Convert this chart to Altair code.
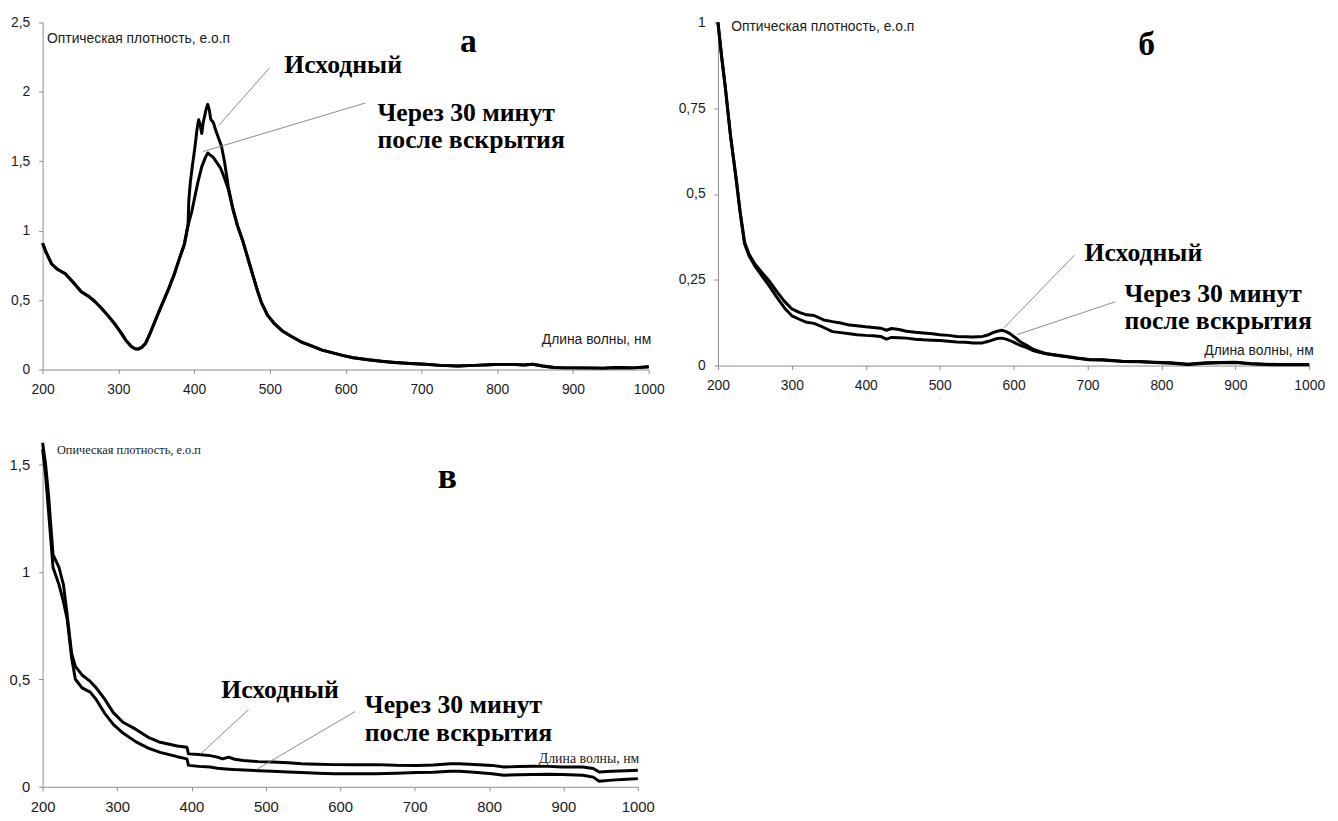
import altair as alt
import pandas as pd

# ---------------- Panel а ----------------
A_WL_NEW = [200, 205, 212, 220, 230, 240, 251, 260, 269, 278, 286, 295, 304, 310, 317, 322, 326, 331,
            336, 341, 347, 353, 360, 367, 374, 380, 387, 393, 397, 400, 405, 410, 415, 418, 420, 425,
            430, 435, 440, 445, 451, 457, 464, 471, 478, 484, 489, 497, 506, 516, 528, 541, 555, 569,
            583, 597, 610, 630, 650, 665, 685, 705, 725, 748, 770, 790, 802, 820, 835, 847, 860, 875,
            890, 910, 940, 960, 980, 1000]
A_NEW = [0.91, 0.84, 0.76, 0.72, 0.69, 0.63, 0.56, 0.53, 0.49, 0.44, 0.39, 0.33, 0.26, 0.21, 0.166,
         0.15, 0.147, 0.16, 0.19, 0.25, 0.33, 0.41, 0.50, 0.59, 0.69, 0.79, 0.90, 1.06, 1.14, 1.22,
         1.35, 1.46, 1.53, 1.56, 1.55, 1.53, 1.49, 1.45, 1.38, 1.30, 1.16, 1.04, 0.93, 0.80, 0.67,
         0.56, 0.48, 0.39, 0.33, 0.28, 0.24, 0.20, 0.17, 0.14, 0.12, 0.10, 0.085, 0.07, 0.058, 0.05,
         0.043, 0.038, 0.03, 0.026, 0.03, 0.035, 0.037, 0.037, 0.033, 0.038, 0.025, 0.015, 0.012,
         0.012, 0.01, 0.015, 0.012, 0.02]
A_WL_ORIG = [200, 205, 212, 220, 230, 240, 251, 260, 269, 278, 286, 295, 304, 310, 317, 322, 326, 331,
             336, 341, 347, 353, 360, 367, 374, 380, 387, 392, 393, 395, 398, 401, 404, 406, 408, 410,
             412, 414, 416, 418, 420, 422, 424, 426, 428, 432, 436, 440, 445, 451, 457, 464, 471, 478,
             484, 489, 497, 506, 516, 528, 541, 555, 569, 583, 597, 610, 630, 650, 665, 685, 705, 725,
             748, 770, 790, 802, 820, 835, 847, 860, 875, 890, 910, 940, 960, 980, 1000]
A_ORIG = [0.91, 0.84, 0.76, 0.72, 0.69, 0.63, 0.56, 0.53, 0.49, 0.44, 0.39, 0.33, 0.26, 0.21, 0.166,
          0.15, 0.147, 0.16, 0.19, 0.25, 0.33, 0.41, 0.50, 0.59, 0.69, 0.79, 0.90, 1.05, 1.22, 1.35,
          1.48, 1.60, 1.74, 1.80, 1.76, 1.70, 1.78, 1.83, 1.88, 1.91, 1.87, 1.80, 1.79, 1.77, 1.73,
          1.67, 1.61, 1.50, 1.32, 1.16, 1.04, 0.93, 0.80, 0.67, 0.56, 0.48, 0.39, 0.33, 0.28, 0.24,
          0.20, 0.17, 0.14, 0.12, 0.10, 0.085, 0.07, 0.058, 0.05, 0.043, 0.038, 0.03, 0.026, 0.03,
          0.035, 0.037, 0.037, 0.033, 0.038, 0.025, 0.015, 0.012, 0.012, 0.01, 0.015, 0.012, 0.02]

# ---------------- Panel б ----------------
B_WL = [200, 205, 210, 217, 225, 230, 236, 242, 250, 260, 270, 280, 290, 300, 310, 320, 330, 343, 355,
        366, 378, 388, 400, 410, 420, 428, 435, 445, 455, 467, 478, 490, 500, 512, 523, 535, 545, 558,
        565, 572, 578, 584, 590, 595, 602, 608, 617, 626, 635, 644, 657, 670, 686, 702, 720, 747, 770,
        790, 813, 836, 860, 880, 900, 920, 940, 959, 980, 1000]
B_ORIG = [1.0, 0.90, 0.81, 0.67, 0.54, 0.45, 0.36, 0.325, 0.296, 0.27, 0.245, 0.215, 0.187, 0.165,
          0.155, 0.148, 0.146, 0.133, 0.128, 0.124, 0.118, 0.116, 0.113, 0.111, 0.109, 0.103, 0.108,
          0.105, 0.100, 0.097, 0.095, 0.093, 0.090, 0.088, 0.085, 0.084, 0.083, 0.085, 0.089, 0.096,
          0.100, 0.103, 0.099, 0.093, 0.082, 0.071, 0.060, 0.048, 0.041, 0.035, 0.031, 0.027, 0.022,
          0.018, 0.017, 0.013, 0.012, 0.010, 0.008, 0.004, 0.008, 0.009, 0.010, 0.006, 0.004, 0.003,
          0.003, 0.003]
B_NEW = [1.0, 0.90, 0.81, 0.67, 0.535, 0.445, 0.355, 0.32, 0.29, 0.26, 0.23, 0.198, 0.168, 0.145,
         0.135, 0.126, 0.123, 0.111, 0.099, 0.096, 0.093, 0.090, 0.088, 0.087, 0.085, 0.077, 0.082,
         0.081, 0.080, 0.077, 0.075, 0.074, 0.073, 0.071, 0.069, 0.068, 0.066, 0.066, 0.070, 0.075,
         0.079, 0.080, 0.077, 0.073, 0.066, 0.060, 0.053, 0.044, 0.039, 0.034, 0.030, 0.026, 0.021,
         0.017, 0.016, 0.012, 0.011, 0.009, 0.007, 0.003, 0.007, 0.008, 0.009, 0.005, 0.003, 0.002,
         0.002, 0.002]

# ---------------- Panel в ----------------
C_WL = [200, 204, 208, 214, 222, 228, 233, 239, 244, 253, 264, 272, 283, 295, 308, 325, 342, 358, 381,
        394, 396, 410, 425, 435, 442, 450, 458, 470, 490, 509, 530, 548, 570, 592, 620, 648, 675, 703,
        725, 748, 760, 780, 804, 820, 840, 859, 880, 898, 926, 940, 948, 965, 985, 1000]
C_ORIG = [1.60, 1.50, 1.355, 1.08, 1.02, 0.94, 0.80, 0.62, 0.56, 0.52, 0.49, 0.46, 0.41, 0.345, 0.30,
          0.268, 0.23, 0.207, 0.19, 0.184, 0.153, 0.15, 0.145, 0.138, 0.13, 0.138, 0.128, 0.122,
          0.117, 0.115, 0.112, 0.107, 0.105, 0.103, 0.102, 0.103, 0.100, 0.0995, 0.101, 0.107, 0.107,
          0.104, 0.0995, 0.092, 0.094, 0.096, 0.095, 0.092, 0.092, 0.085, 0.069, 0.072, 0.075, 0.077]
C_NEW = [1.57, 1.45, 1.28, 1.02, 0.94, 0.86, 0.78, 0.60, 0.50, 0.46, 0.44, 0.406, 0.344, 0.29, 0.25,
         0.21, 0.18, 0.16, 0.14, 0.13, 0.0995, 0.095, 0.092, 0.086, 0.084, 0.082, 0.08, 0.078, 0.075,
         0.072, 0.069, 0.066, 0.063, 0.061, 0.061, 0.061, 0.063, 0.066, 0.068, 0.072, 0.072, 0.068,
         0.061, 0.054, 0.056, 0.057, 0.058, 0.057, 0.054, 0.045, 0.026, 0.031, 0.035, 0.038]

X_TICKS = [200, 300, 400, 500, 600, 700, 800, 900, 1000]
SERIES = ["Исходный", "Через 30 минут после вскрытия"]

# Annotation texts (data coordinates)
LBL_TEXT = ["Исходный", "Через 30 минут", "после вскрытия"]
A_LBL_X = [519, 642, 642]
A_LBL_Y = [2.19, 1.85, 1.65]
B_LBL_X = [696, 750, 750]
B_LBL_Y = [0.328, 0.209, 0.130]
C_LBL_X = [440, 633, 633]
C_LBL_Y = [0.451, 0.382, 0.249]

# Letter markers
LETTERS = ["а", "б", "в"]
LETTER_X = [762, 780, 744]
LETTER_Y = [2.36, 0.933, 1.44]

# Callout lines: x, y, x2, y2
A_CALL = [[499, 2.17, 432.7, 1.76], [626, 1.92, 411.8, 1.57]]
B_CALL = [[682.5, 0.322, 587, 0.110], [737.6, 0.186, 604.6, 0.09]]
C_CALL = [[476.8, 0.359, 412, 0.152], [620, 0.35, 488.7, 0.083]]

Y_TITLE = ["Оптическая плотность, е.о.п", "Оптическая плотность, е.о.п", "Опическая плотность, е.о.п"]
X_TITLE = ["Длина волны, нм", "Длина волны, нм", "Длина  волны, нм"]


def make_panel(wl_o, v_o, wl_n, v_n, ymax, yticks, width, height,
               ytitle, ytx, yty, yfont, ysize,
               xtitle, xtx, xty, xfont, xsize,
               label_x, label_y, letter, lx, ly, lsize, calls, tick_size):
    df = pd.concat([
        pd.DataFrame({"x": wl_o, "y": v_o, "s": SERIES[0]}),
        pd.DataFrame({"x": wl_n, "y": v_n, "s": SERIES[1]}),
    ])
    xs = alt.Scale(domain=[200, 1000], nice=False, zero=False)
    ys = alt.Scale(domain=[0, ymax], nice=False, zero=True)
    common_axis = dict(grid=False, domainColor="#8c8c8c", tickColor="#8c8c8c", tickSize=4,
                       labelFont="Liberation Sans", labelFontSize=tick_size, labelColor="#1a1a1a",
                       titleFontWeight="normal", titleColor="#1a1a1a", titleLimit=1000, labelPadding=9,
                       labelFlush=False, labelOverlap=False)
    xaxis = alt.Axis(values=X_TICKS, title=xtitle, titleX=xtx, titleY=xty, titleAlign="right",
                     titleBaseline="middle", titleAngle=0, titleFont=xfont, titleFontSize=xsize,
                     labelExpr="format(datum.value, 'd')", **common_axis)
    yaxis = alt.Axis(values=yticks, title=ytitle, titleX=ytx, titleY=yty, titleAlign="left",
                     titleBaseline="middle", titleAngle=0, titleFont=yfont, titleFontSize=ysize,
                     labelExpr="replace(format(datum.value, '.2~f'), '.', ',')", **common_axis)
    lines = alt.Chart(df).mark_line(color="black", strokeWidth=3, strokeJoin="round").encode(
        x=alt.X("x:Q", scale=xs, axis=xaxis),
        y=alt.Y("y:Q", scale=ys, axis=yaxis),
        detail="s:N",
    )
    cdf = pd.DataFrame(calls, columns=["x", "y", "x2", "y2"])
    rules = alt.Chart(cdf).mark_rule(color="#8a8a8a", strokeWidth=1).encode(
        x="x:Q", y="y:Q", x2="x2:Q", y2="y2:Q")
    ldf = pd.DataFrame({"x": label_x, "y": label_y, "t": LBL_TEXT})
    labels = alt.Chart(ldf).mark_text(align="left", baseline="middle", font="Liberation Serif",
                                      fontWeight="bold", fontSize=26, color="black").encode(
        x="x:Q", y="y:Q", text="t:N")
    let_df = pd.DataFrame({"x": [lx], "y": [ly], "t": [letter]})
    letters = alt.Chart(let_df).mark_text(align="center", baseline="middle", font="Liberation Serif",
                                          fontWeight="bold", fontSize=lsize, color="black").encode(
        x="x:Q", y="y:Q", text="t:N")
    return alt.layer(lines, rules, labels, letters).properties(width=width, height=height)


pa = make_panel(A_WL_ORIG, A_ORIG, A_WL_NEW, A_NEW, 2.5, [0, 0.5, 1, 1.5, 2, 2.5], 613, 351,
                Y_TITLE[0], 4, 16, "Liberation Sans", 14,
                X_TITLE[0], 615, -30, "Liberation Sans", 14,
                A_LBL_X, A_LBL_Y, LETTERS[0], LETTER_X[0], LETTER_Y[0], 34, A_CALL, 14)
pb = make_panel(B_WL, B_ORIG, B_WL, B_NEW, 1.0, [0, 0.25, 0.5, 0.75, 1], 598, 347,
                Y_TITLE[1], 13, 4, "Liberation Sans", 14,
                X_TITLE[1], 602, -15, "Liberation Sans", 14,
                B_LBL_X, B_LBL_Y, LETTERS[1], LETTER_X[1], LETTER_Y[1], 34, B_CALL, 14)
pc = make_panel(C_WL, C_ORIG, C_WL, C_NEW, 1.6, [0, 0.5, 1, 1.5], 602, 348,
                Y_TITLE[2], 14, 7, "Liberation Serif", 12.5,
                X_TITLE[2], 603, -29, "Liberation Serif", 14,
                C_LBL_X, C_LBL_Y, LETTERS[2], LETTER_X[2], LETTER_Y[2], 36, C_CALL, 15)

chart = alt.concat(pa, pb, pc, columns=2, spacing={"row": 74, "column": 70}, bounds="flush").properties(
    padding={"left": 1, "top": 3, "right": 5, "bottom": 5},
    background="white",
).configure_view(stroke=None)

chart.save("out.html", embed_options={"renderer": "svg", "actions": False})
